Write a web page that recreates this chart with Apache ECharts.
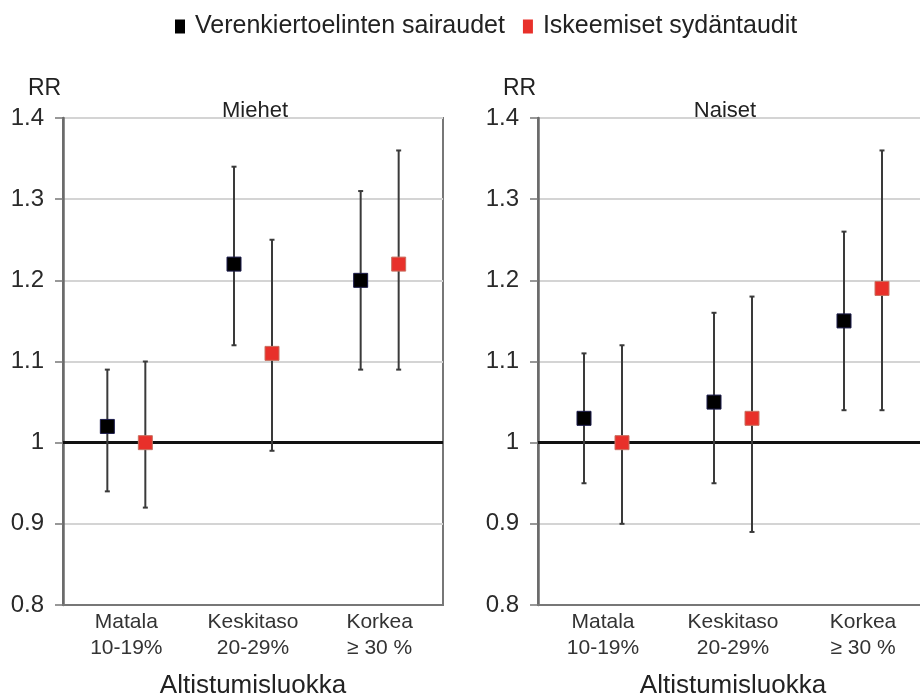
<!DOCTYPE html>
<html>
<head>
<meta charset="utf-8">
<script src="https://cdn.jsdelivr.net/npm/echarts@6/dist/echarts.min.js"></script>
<style>
  html, body { margin: 0; padding: 0; background: #fff; }
  #chart { width: 920px; height: 697px; }
</style>
</head>
<body>
<div id="chart"></div>
<script>
// Altistumisluokat
const categories = ['Matala\n10-19%', 'Keskitaso\n20-29%', 'Korkea\n≥ 30 %'];

// Miehet: verenkiertoelinten sairaudet (RR, alaraja, yläraja)
const miehetVerRR = [1.02, 1.22, 1.20];
const miehetVerAla = [0.94, 1.12, 1.09];
const miehetVerYla = [1.09, 1.34, 1.31];
// Miehet: iskeemiset sydäntaudit
const miehetIskRR = [1.00, 1.11, 1.22];
const miehetIskAla = [0.92, 0.99, 1.09];
const miehetIskYla = [1.10, 1.25, 1.36];

// Naiset: verenkiertoelinten sairaudet
const naisetVerRR = [1.03, 1.05, 1.15];
const naisetVerAla = [0.95, 0.95, 1.04];
const naisetVerYla = [1.11, 1.16, 1.26];
// Naiset: iskeemiset sydäntaudit
const naisetIskRR = [1.00, 1.03, 1.19];
const naisetIskAla = [0.90, 0.89, 1.04];
const naisetIskYla = [1.12, 1.18, 1.36];

const FONT = 'Liberation Sans, Arial, sans-serif';
const NIMI_VER = 'Verenkiertoelinten sairaudet';
const NIMI_ISK = 'Iskeemiset sydäntaudit';

const myChart = echarts.init(document.getElementById('chart'));

// yhdistää arvot riveiksi [luokka, RR, ala, ylä]
function rivit(rr, ala, yla) {
  return rr.map((v, i) => [i, v, ala[i], yla[i]]);
}

// virhepalkki + neliö, siirretty vaakasuunnassa
function piirto(siirto, vari, reuna) {
  return function (params, api) {
    const keski = api.coord([api.value(0), api.value(1)]);
    const ala = api.coord([api.value(0), api.value(2)]);
    const yla = api.coord([api.value(0), api.value(3)]);
    const x = keski[0] + siirto;
    const s = 14;
    const viiva = { stroke: '#3a3a3a', lineWidth: 2 };
    return {
      type: 'group',
      children: [
        { type: 'line', shape: { x1: x, y1: ala[1], x2: x, y2: yla[1] }, style: viiva },
        { type: 'line', shape: { x1: x - 2.5, y1: ala[1], x2: x + 2.5, y2: ala[1] }, style: viiva },
        { type: 'line', shape: { x1: x - 2.5, y1: yla[1], x2: x + 2.5, y2: yla[1] }, style: viiva },
        {
          type: 'rect',
          shape: { x: x - s / 2, y: keski[1] - s / 2, width: s, height: s },
          style: { fill: vari, stroke: reuna, lineWidth: 1 }
        }
      ]
    };
  };
}

function sarja(nimi, indeksi, data, siirto, vari, reuna, viite) {
  const s = {
    name: nimi,
    type: 'custom',
    xAxisIndex: indeksi,
    yAxisIndex: indeksi,
    renderItem: piirto(siirto, vari, reuna),
    encode: { x: 0, y: 1 },
    data: data,
    itemStyle: { color: vari },
    z: 5
  };
  if (viite) {
    s.markLine = {
      silent: true,
      symbol: 'none',
      label: { show: false },
      lineStyle: { color: '#111', width: 3, type: 'solid' },
      data: [{ yAxis: 1 }],
      z: 3
    };
  }
  return s;
}

function yAkseli(indeksi) {
  return {
    type: 'value',
    gridIndex: indeksi,
    min: 0.8,
    max: 1.4,
    interval: 0.1,
    axisLine: { show: true, lineStyle: { color: '#6a6a6a', width: 2.5 } },
    axisTick: { show: true, length: 8, lineStyle: { color: '#777', width: 1.5 } },
    axisLabel: { fontSize: 24, color: '#2a2a2a', fontFamily: FONT, margin: 19 },
    splitLine: { show: true, lineStyle: { color: '#d4d4d4', width: 2 } }
  };
}

function xAkseli(indeksi) {
  return {
    type: 'category',
    gridIndex: indeksi,
    data: categories,
    boundaryGap: true,
    axisLine: { show: true, lineStyle: { color: '#777', width: 2 } },
    axisTick: { show: false },
    axisLabel: { fontSize: 21, color: '#333', fontFamily: FONT, lineHeight: 26, margin: 4 },
    name: 'Altistumisluokka',
    nameLocation: 'middle',
    nameGap: 68,
    nameTextStyle: { fontSize: 26, color: '#222', fontFamily: FONT }
  };
}

const otsikko = { fontWeight: 'normal', color: '#222', fontFamily: FONT };

const ruutu = { show: true, borderColor: '#777', borderWidth: 2, backgroundColor: '#fff', outerBoundsMode: 'none', containLabel: false };

const option = {
  backgroundColor: '#fff',
  animation: false,
  textStyle: { fontFamily: FONT },
  legend: {
    data: [
      { name: NIMI_VER, icon: 'rect' },
      { name: NIMI_ISK, icon: 'rect' }
    ],
    top: 9,
    left: 170,
    itemWidth: 10,
    itemHeight: 14,
    itemGap: 18,
    textStyle: { fontSize: 25, color: '#222', fontFamily: FONT, padding: [0, 0, 0, 5] }
  },
  title: [
    { text: 'RR', left: 23, top: 72, textStyle: Object.assign({ fontSize: 23 }, otsikko) },
    { text: 'RR', left: 498, top: 72, textStyle: Object.assign({ fontSize: 23 }, otsikko) },
    { text: 'Miehet', left: 250, top: 95, textAlign: 'center', textStyle: Object.assign({ fontSize: 22 }, otsikko) },
    { text: 'Naiset', left: 720, top: 95, textAlign: 'center', textStyle: Object.assign({ fontSize: 22 }, otsikko) }
  ],
  grid: [
    Object.assign({ left: 63, top: 118, width: 380, height: 487 }, ruutu),
    Object.assign({ left: 538, top: 118, width: 390, height: 487 }, ruutu)
  ],
  xAxis: [xAkseli(0), xAkseli(1)],
  yAxis: [yAkseli(0), yAkseli(1)],
  series: [
    sarja(NIMI_VER, 0, rivit(miehetVerRR, miehetVerAla, miehetVerYla), -19, '#000', '#1a1a4a', true),
    sarja(NIMI_ISK, 0, rivit(miehetIskRR, miehetIskAla, miehetIskYla), 19, '#e8302a', '#c87060', false),
    sarja(NIMI_VER, 1, rivit(naisetVerRR, naisetVerAla, naisetVerYla), -19, '#000', '#1a1a4a', true),
    sarja(NIMI_ISK, 1, rivit(naisetIskRR, naisetIskAla, naisetIskYla), 19, '#e8302a', '#c87060', false)
  ]
};

myChart.setOption(option);
</script>
</body>
</html>
